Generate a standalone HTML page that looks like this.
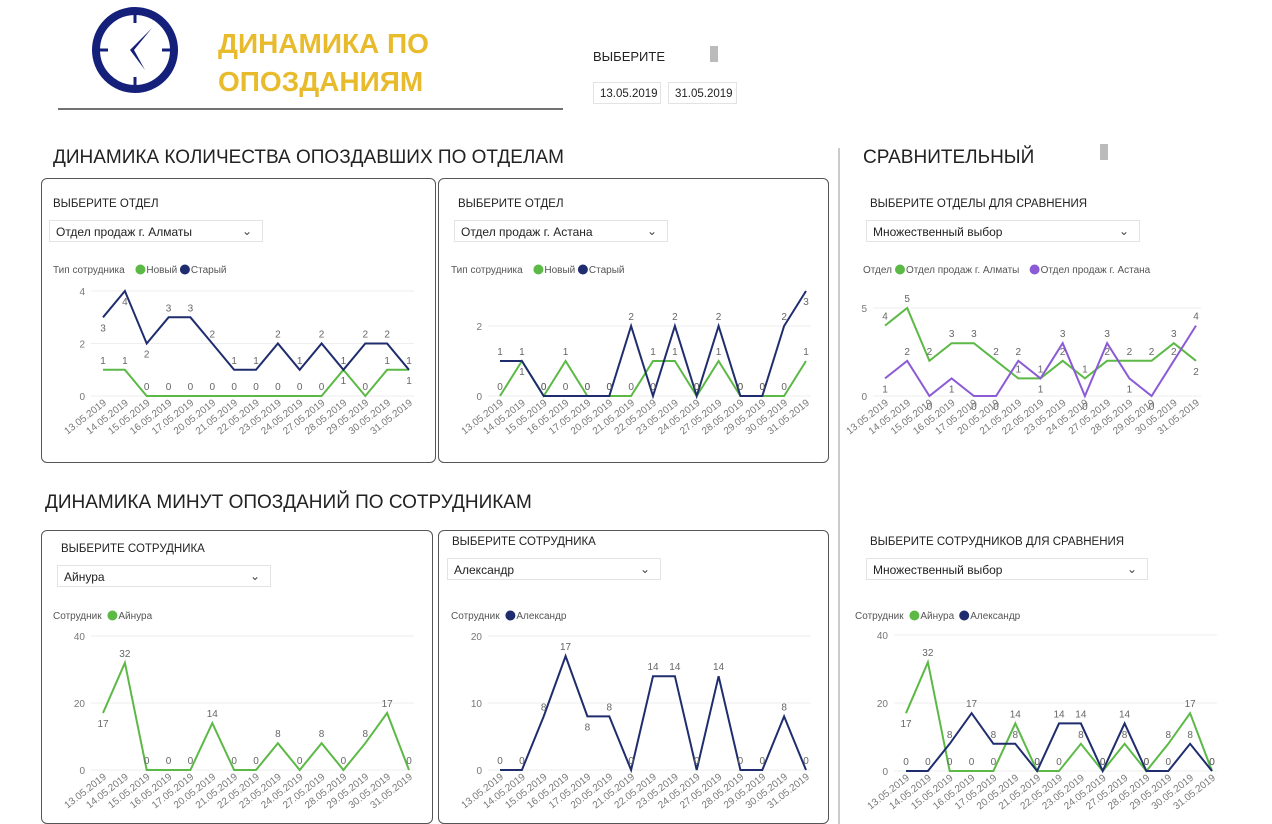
<!DOCTYPE html>
<html><head><meta charset="utf-8">
<style>
body{margin:0;width:1272px;height:824px;background:#fff;overflow:hidden;position:relative;font-family:"Liberation Sans",sans-serif;}
.a{position:absolute;white-space:nowrap;}
.box{position:absolute;border:1px solid #555;border-radius:6px;}
.dd{position:absolute;border:1px solid #e3e3e3;font-size:12px;color:#222;height:22px;line-height:22px;padding-left:6px;box-sizing:border-box;}
.dd span{position:absolute;right:10px;top:-1px;font-size:12px;color:#444;}
.lbl{font-size:11.5px;color:#222;}
.h{font-size:19px;color:#222;}
</style></head><body>
<svg class="a" style="left:0;top:0" width="1272" height="824">
<circle cx="135" cy="50" r="39" fill="none" stroke="#14207a" stroke-width="8"/>
<g stroke="#14207a" stroke-width="3"><line x1="135" y1="14" x2="135" y2="23"/><line x1="135" y1="77" x2="135" y2="86"/><line x1="99" y1="50" x2="108" y2="50"/><line x1="162" y1="50" x2="171" y2="50"/></g>
<polygon points="152,28 130,50 145,70 134,50" fill="#14207a"/>
<line x1="58" y1="109" x2="563" y2="109" stroke="#444" stroke-width="1.5"/>
<line x1="839" y1="148" x2="839" y2="824" stroke="#999" stroke-width="1"/>
<rect x="710" y="46" width="8" height="16" fill="#bbb"/>
<rect x="1100" y="144" width="8" height="16" fill="#bbb"/>
<g id="charts"></g>
</svg>
<div class="a" style="left:218px;top:25px;font-size:28px;font-weight:bold;color:#e8bb2c;line-height:38px">ДИНАМИКА ПО<br>ОПОЗДАНИЯМ</div>
<div class="a lbl" style="left:593px;top:49px;font-size:13px">ВЫБЕРИТЕ</div>
<div class="dd" style="left:593px;top:82px;width:68px;font-size:11.5px">13.05.2019</div>
<div class="dd" style="left:668px;top:82px;width:69px;font-size:11.5px">31.05.2019</div>
<div class="a h" style="left:53px;top:147px">ДИНАМИКА КОЛИЧЕСТВА ОПОЗДАВШИХ ПО ОТДЕЛАМ</div>
<div class="a h" style="left:45px;top:492px">ДИНАМИКА МИНУТ ОПОЗДАНИЙ ПО СОТРУДНИКАМ</div>
<div class="a h" style="left:863px;top:147px">СРАВНИТЕЛЬНЫЙ</div>
<div class="box" style="left:41px;top:178px;width:393px;height:283px"></div>
<div class="box" style="left:438px;top:178px;width:389px;height:283px"></div>
<div class="box" style="left:41px;top:530px;width:390px;height:292px"></div>
<div class="box" style="left:438px;top:530px;width:389px;height:292px"></div>
<div class="a lbl" style="left:53px;top:198px">ВЫБЕРИТЕ ОТДЕЛ</div>
<div class="dd" style="left:49px;top:220px;width:214px">Отдел продаж г. Алматы<span>&#8964;</span></div>
<div class="a lbl" style="left:458px;top:198px">ВЫБЕРИТЕ ОТДЕЛ</div>
<div class="dd" style="left:454px;top:220px;width:214px">Отдел продаж г. Астана<span>&#8964;</span></div>
<div class="a lbl" style="left:870px;top:198px">ВЫБЕРИТЕ ОТДЕЛЫ ДЛЯ СРАВНЕНИЯ</div>
<div class="dd" style="left:866px;top:220px;width:274px">Множественный выбор<span>&#8964;</span></div>
<div class="a lbl" style="left:61px;top:543px">ВЫБЕРИТЕ СОТРУДНИКА</div>
<div class="dd" style="left:57px;top:565px;width:214px">Айнура<span>&#8964;</span></div>
<div class="a lbl" style="left:452px;top:536px">ВЫБЕРИТЕ СОТРУДНИКА</div>
<div class="dd" style="left:447px;top:558px;width:214px">Александр<span>&#8964;</span></div>
<div class="a lbl" style="left:870px;top:536px">ВЫБЕРИТЕ СОТРУДНИКОВ ДЛЯ СРАВНЕНИЯ</div>
<div class="dd" style="left:866px;top:558px;width:282px">Множественный выбор<span>&#8964;</span></div>
<script>
var D=["13.05.2019","14.05.2019","15.05.2019","16.05.2019","17.05.2019","20.05.2019","21.05.2019","22.05.2019","23.05.2019","24.05.2019","27.05.2019","28.05.2019","29.05.2019","30.05.2019","31.05.2019"];
var G="#5cb946",N="#1f2d6e",P="#8b5bd6";
var out="";
function t(x,y,s,o){return '<text x="'+x+'" y="'+y+'" '+(o||'')+'>'+s+'</text>';}
function chart(c){
 var s="",n=15,dx=(c.x1-c.x0)/(n-1);
 var lx=c.lx,ly=c.ly;
 s+=t(lx,ly,c.lt,'font-size="10" fill="#555"');lx+=c.lt.length*5.6+4;
 c.ser.forEach(function(q){s+='<circle cx="'+(lx+5)+'" cy="'+(ly-3.5)+'" r="5" fill="'+q.c+'"/>';s+=t(lx+11,ly,q.n,'font-size="10" fill="#555"');lx+=q.n.length*5.3+18;});
 c.ticks.forEach(function(v){var y=c.y0-(c.y0-c.yt)*v/c.tmax;s+='<line x1="'+(c.x0-12)+'" y1="'+y+'" x2="'+(c.x1+5)+'" y2="'+y+'" stroke="#eee"/>';s+=t(c.x0-18,y+4,v,'font-size="10" fill="#777" text-anchor="end"');});
 D.forEach(function(d,i){var x=c.x0+i*dx+4,y=c.y0+8;s+=t(x,y,d,'font-size="10" fill="#777" text-anchor="end" transform="rotate(-38 '+x+' '+y+')"');});
 c.ser.forEach(function(q,k){var pts=q.v.map(function(v,i){return (c.x0+i*dx).toFixed(1)+','+(c.y0-(c.y0-c.yt)*v/c.tmax).toFixed(1);});
  s+='<polyline points="'+pts.join(' ')+'" fill="none" stroke="'+q.c+'" stroke-width="2"/>';
  q.v.forEach(function(v,i){var y=c.y0-(c.y0-c.yt)*v/c.tmax;var off=(q.below&&q.below[i])?14:-6;s+=t(c.x0+i*dx,y+off,v,'font-size="10" fill="#666" text-anchor="middle"');});
 });
 out+=s;
}
chart({x0:103,x1:409,y0:396,yt:291,tmax:4,ticks:[0,2,4],lx:53,ly:273,lt:"Тип сотрудника",ser:[
 {n:"Новый",c:G,v:[1,1,0,0,0,0,0,0,0,0,0,1,0,1,1],below:[0,0,0,0,0,0,0,0,0,0,0,1,0,0,1]},
 {n:"Старый",c:N,v:[3,4,2,3,3,2,1,1,2,1,2,1,2,2,1],below:[1,1,1,0,0,0,0,0,0,0,0,0,0,0,0]}]});
chart({x0:500,x1:806,y0:396,yt:326,tmax:2,ticks:[0,2],lx:451,ly:273,lt:"Тип сотрудника",ser:[
 {n:"Новый",c:G,v:[0,1,0,1,0,0,0,1,1,0,1,0,0,0,1],below:[0,1,0,0,0,0,0,0,0,0,0,0,0,0,0]},
 {n:"Старый",c:N,v:[1,1,0,0,0,0,2,0,2,0,2,0,0,2,3],below:[0,0,0,0,0,0,0,0,0,0,0,0,0,0,1]}]});
chart({x0:885,x1:1196,y0:396,yt:308,tmax:5,ticks:[0,5],lx:863,ly:273,lt:"Отдел",ser:[
 {n:"Отдел продаж г. Алматы",c:G,v:[4,5,2,3,3,2,1,1,2,1,2,2,2,3,2],below:[0,0,0,0,0,0,0,0,0,0,0,0,0,0,1]},
 {n:"Отдел продаж г. Астана",c:P,v:[1,2,0,1,0,0,2,1,3,0,3,1,0,2,4],below:[1,0,1,1,1,1,0,1,0,1,0,1,1,0,0]}]});
chart({x0:103,x1:409,y0:770,yt:636,tmax:40,ticks:[0,20,40],lx:53,ly:619,lt:"Сотрудник",ser:[
 {n:"Айнура",c:G,v:[17,32,0,0,0,14,0,0,8,0,8,0,8,17,0],below:[1,0,0,0,0,0,0,0,0,0,0,0,0,0,0]}]});
chart({x0:500,x1:806,y0:770,yt:636,tmax:20,ticks:[0,10,20],lx:451,ly:619,lt:"Сотрудник",ser:[
 {n:"Александр",c:N,v:[0,0,8,17,8,8,0,14,14,0,14,0,0,8,0],below:[0,0,0,0,1,0,0,0,0,0,0,0,0,0,0]}]});
chart({x0:906,x1:1212,y0:771,yt:635,tmax:40,ticks:[0,20,40],lx:855,ly:619,lt:"Сотрудник",ser:[
 {n:"Айнура",c:G,v:[17,32,0,0,0,14,0,0,8,0,8,0,8,17,0],below:[1,0,0,0,0,0,0,0,0,0,0,0,0,0,0]},
 {n:"Александр",c:N,v:[0,0,8,17,8,8,0,14,14,0,14,0,0,8,0]}]});
document.getElementById("charts").innerHTML=out;
</script>
</body></html>
